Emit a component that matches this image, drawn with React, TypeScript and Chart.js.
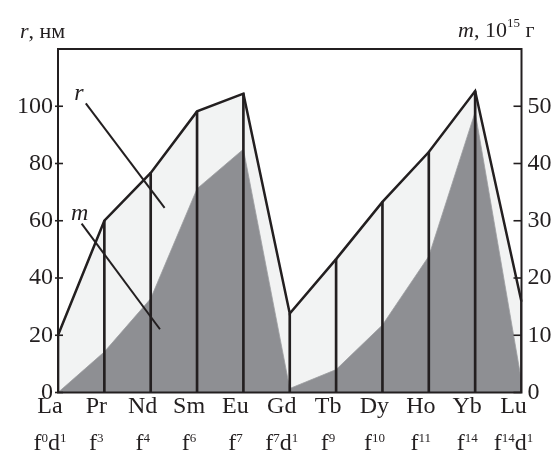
import React, { useEffect, useRef } from 'react';
import { Chart, registerables } from 'chart.js';

Chart.register(...registerables);

// ---- data ----
const elements = ['La', 'Pr', 'Nd', 'Sm', 'Eu', 'Gd', 'Tb', 'Dy', 'Ho', 'Yb', 'Lu'];
const configs = ['f^0d^1', 'f^3', 'f^4', 'f^6', 'f^7', 'f^7d^1', 'f^9', 'f^10', 'f^11', 'f^14', 'f^14d^1'];
// r, nm (left axis)
const radius = [20, 60, 76.7, 98.2, 104.4, 27.6, 46.6, 66.6, 84, 105.3, 31.7];
// m, 10^15 g (right axis)
const mass = [0, 7.1, 16.4, 35.6, 42.5, 0.7, 4, 11.8, 23.8, 49, 2];
const leftTicks = [0, 20, 40, 60, 80, 100];
const rightTicks = [0, 10, 20, 30, 40, 50];

// callout labels in data coordinates (category index, left-axis value)
const callouts = [
  { label: 'r', at: [0.45, 104.5], from: [0.6, 101], to: [2.3, 64.5] },
  { label: 'm', at: [0.47, 62.3], from: [0.51, 59], to: [2.2, 22.1] },
];

const INK = '#231f20';
const LIGHT = '#f2f3f3';
const DARK = '#8e8f93';
const SERIF = '"Liberation Serif", "Times New Roman", serif';

type Seg = { t: string; sup?: boolean; it?: boolean };

function parseRich(s: string): Seg[] {
  const out: Seg[] = [];
  const re = /\^(\d+)|[^^]+/g;
  let m: RegExpExecArray | null;
  while ((m = re.exec(s))) {
    if (m[1] !== undefined) out.push({ t: m[1], sup: true });
    else out.push({ t: m[0] });
  }
  return out;
}

function drawSegs(
  ctx: CanvasRenderingContext2D,
  segs: Seg[],
  x: number,
  baseline: number,
  size: number,
  supSize: number,
  rise: number,
  align: 'center' | 'left'
) {
  const fontFor = (s: Seg) => `${s.it ? 'italic ' : ''}${s.sup ? supSize : size}px ${SERIF}`;
  let total = 0;
  const widths = segs.map((s) => {
    ctx.font = fontFor(s);
    const w = ctx.measureText(s.t).width;
    total += w;
    return w;
  });
  let cx = align === 'center' ? x - total / 2 : x;
  ctx.textAlign = 'left';
  ctx.textBaseline = 'alphabetic';
  segs.forEach((s, i) => {
    ctx.font = fontFor(s);
    ctx.fillText(s.t, cx, s.sup ? baseline - rise : baseline);
    cx += widths[i];
  });
}

const decorPlugin = {
  id: 'decor',
  afterDatasetsDraw(chart: any) {
    const { ctx, chartArea, scales } = chart;
    const x = scales.x;
    const y = scales.y;
    const y1 = scales.y1;
    ctx.save();
    ctx.strokeStyle = INK;
    ctx.fillStyle = INK;
    // frame
    ctx.lineWidth = 2;
    ctx.strokeRect(chartArea.left, chartArea.top, chartArea.right - chartArea.left, chartArea.bottom - chartArea.top);
    // tick marks
    ctx.lineWidth = 1.6;
    leftTicks.forEach((v) => {
      const py = y.getPixelForValue(v);
      ctx.beginPath();
      ctx.moveTo(chartArea.left - 3, py);
      ctx.lineTo(chartArea.left + 5, py);
      ctx.stroke();
    });
    rightTicks.forEach((v) => {
      const py = y1.getPixelForValue(v);
      ctx.beginPath();
      ctx.moveTo(chartArea.right - 8, py);
      ctx.lineTo(chartArea.right, py);
      ctx.stroke();
    });
    // callouts
    ctx.lineWidth = 2;
    callouts.forEach((c) => {
      ctx.beginPath();
      ctx.moveTo(x.getPixelForValue(c.from[0]), y.getPixelForValue(c.from[1]));
      ctx.lineTo(x.getPixelForValue(c.to[0]), y.getPixelForValue(c.to[1]));
      ctx.stroke();
      ctx.font = `italic 24px ${SERIF}`;
      ctx.textAlign = 'center';
      ctx.textBaseline = 'middle';
      ctx.fillText(c.label, x.getPixelForValue(c.at[0]), y.getPixelForValue(c.at[1]));
    });
    ctx.restore();
  },
  afterDraw(chart: any) {
    const { ctx, chartArea, scales } = chart;
    const x = scales.x;
    ctx.save();
    ctx.fillStyle = INK;
    // category labels (two rows)
    elements.forEach((el, i) => {
      const px = x.getPixelForValue(i) - 8;
      ctx.font = `24px ${SERIF}`;
      ctx.textAlign = 'center';
      ctx.textBaseline = 'alphabetic';
      ctx.fillText(el, px, chartArea.bottom + 20.5);
      drawSegs(ctx, parseRich(configs[i]), px, chartArea.bottom + 57.5, 24, 13, 8, 'center');
    });
    // axis titles
    drawSegs(ctx, [{ t: 'r', it: true }, { t: ', нм' }], 20, 38, 22, 13, 9, 'left');
    drawSegs(
      ctx,
      [{ t: 'm', it: true }, { t: ', 10' }, { t: '15', sup: true }, { t: ' г' }],
      458,
      37,
      22,
      13,
      10,
      'left'
    );
    ctx.restore();
  },
};

export default function App() {
  const ref = useRef<HTMLCanvasElement | null>(null);

  useEffect(() => {
    document.body.style.margin = '0';
    const canvas = ref.current;
    if (!canvas) return;
    const tickFont = { family: SERIF, size: 24 };
    const chart = new Chart(canvas, {
      type: 'line',
      data: {
        labels: elements,
        datasets: [
          {
            type: 'line',
            label: 'r',
            data: radius,
            yAxisID: 'y',
            borderColor: INK,
            borderWidth: 2.5,
            pointRadius: 0,
            fill: false,
            order: 0,
          },
          {
            type: 'bar',
            label: 'r-bars',
            data: radius,
            yAxisID: 'y',
            backgroundColor: INK,
            barThickness: 2,
            order: 1,
          },
          {
            type: 'line',
            label: 'm',
            data: mass,
            yAxisID: 'y1',
            borderColor: '#9d9ea1',
            borderWidth: 0.8,
            backgroundColor: DARK,
            pointRadius: 0,
            fill: 'origin',
            order: 2,
          },
          {
            type: 'line',
            label: 'r-area',
            data: radius,
            yAxisID: 'y',
            borderWidth: 0,
            borderColor: 'rgba(0,0,0,0)',
            backgroundColor: LIGHT,
            pointRadius: 0,
            fill: 'origin',
            order: 3,
          },
        ] as any,
      },
      options: {
        responsive: false,
        animation: false,
        layout: { padding: { top: 49, left: 0, right: 0, bottom: 0 } },
        plugins: { legend: { display: false }, tooltip: { enabled: false } },
        scales: {
          x: {
            type: 'category',
            offset: false,
            grid: { display: false },
            border: { display: false },
            ticks: { display: false },
            afterFit: (s: any) => {
              s.height = 63.5;
            },
          },
          y: {
            position: 'left',
            min: 0,
            max: 120,
            ticks: {
              stepSize: 20,
              font: tickFont,
              color: INK,
              padding: 5,
              callback: (v: any) => (leftTicks.includes(Number(v)) ? String(v) : ''),
            },
            grid: { drawOnChartArea: false, drawTicks: false },
            border: { display: false },
            afterFit: (s: any) => {
              s.width = 58;
            },
          },
          y1: {
            position: 'right',
            min: 0,
            max: 60,
            ticks: {
              stepSize: 10,
              font: tickFont,
              color: INK,
              padding: 6,
              callback: (v: any) => (rightTicks.includes(Number(v)) ? String(v) : ''),
            },
            grid: { drawOnChartArea: false, drawTicks: false },
            border: { display: false },
            afterFit: (s: any) => {
              s.width = 30.5;
            },
          },
        },
      } as any,
      plugins: [decorPlugin],
    });
    return () => chart.destroy();
  }, []);

  return (
    <div style={{ width: 552, height: 456, background: '#fff' }}>
      <canvas ref={ref} width={552} height={456} style={{ display: 'block', width: 552, height: 456 }} />
    </div>
  );
}
